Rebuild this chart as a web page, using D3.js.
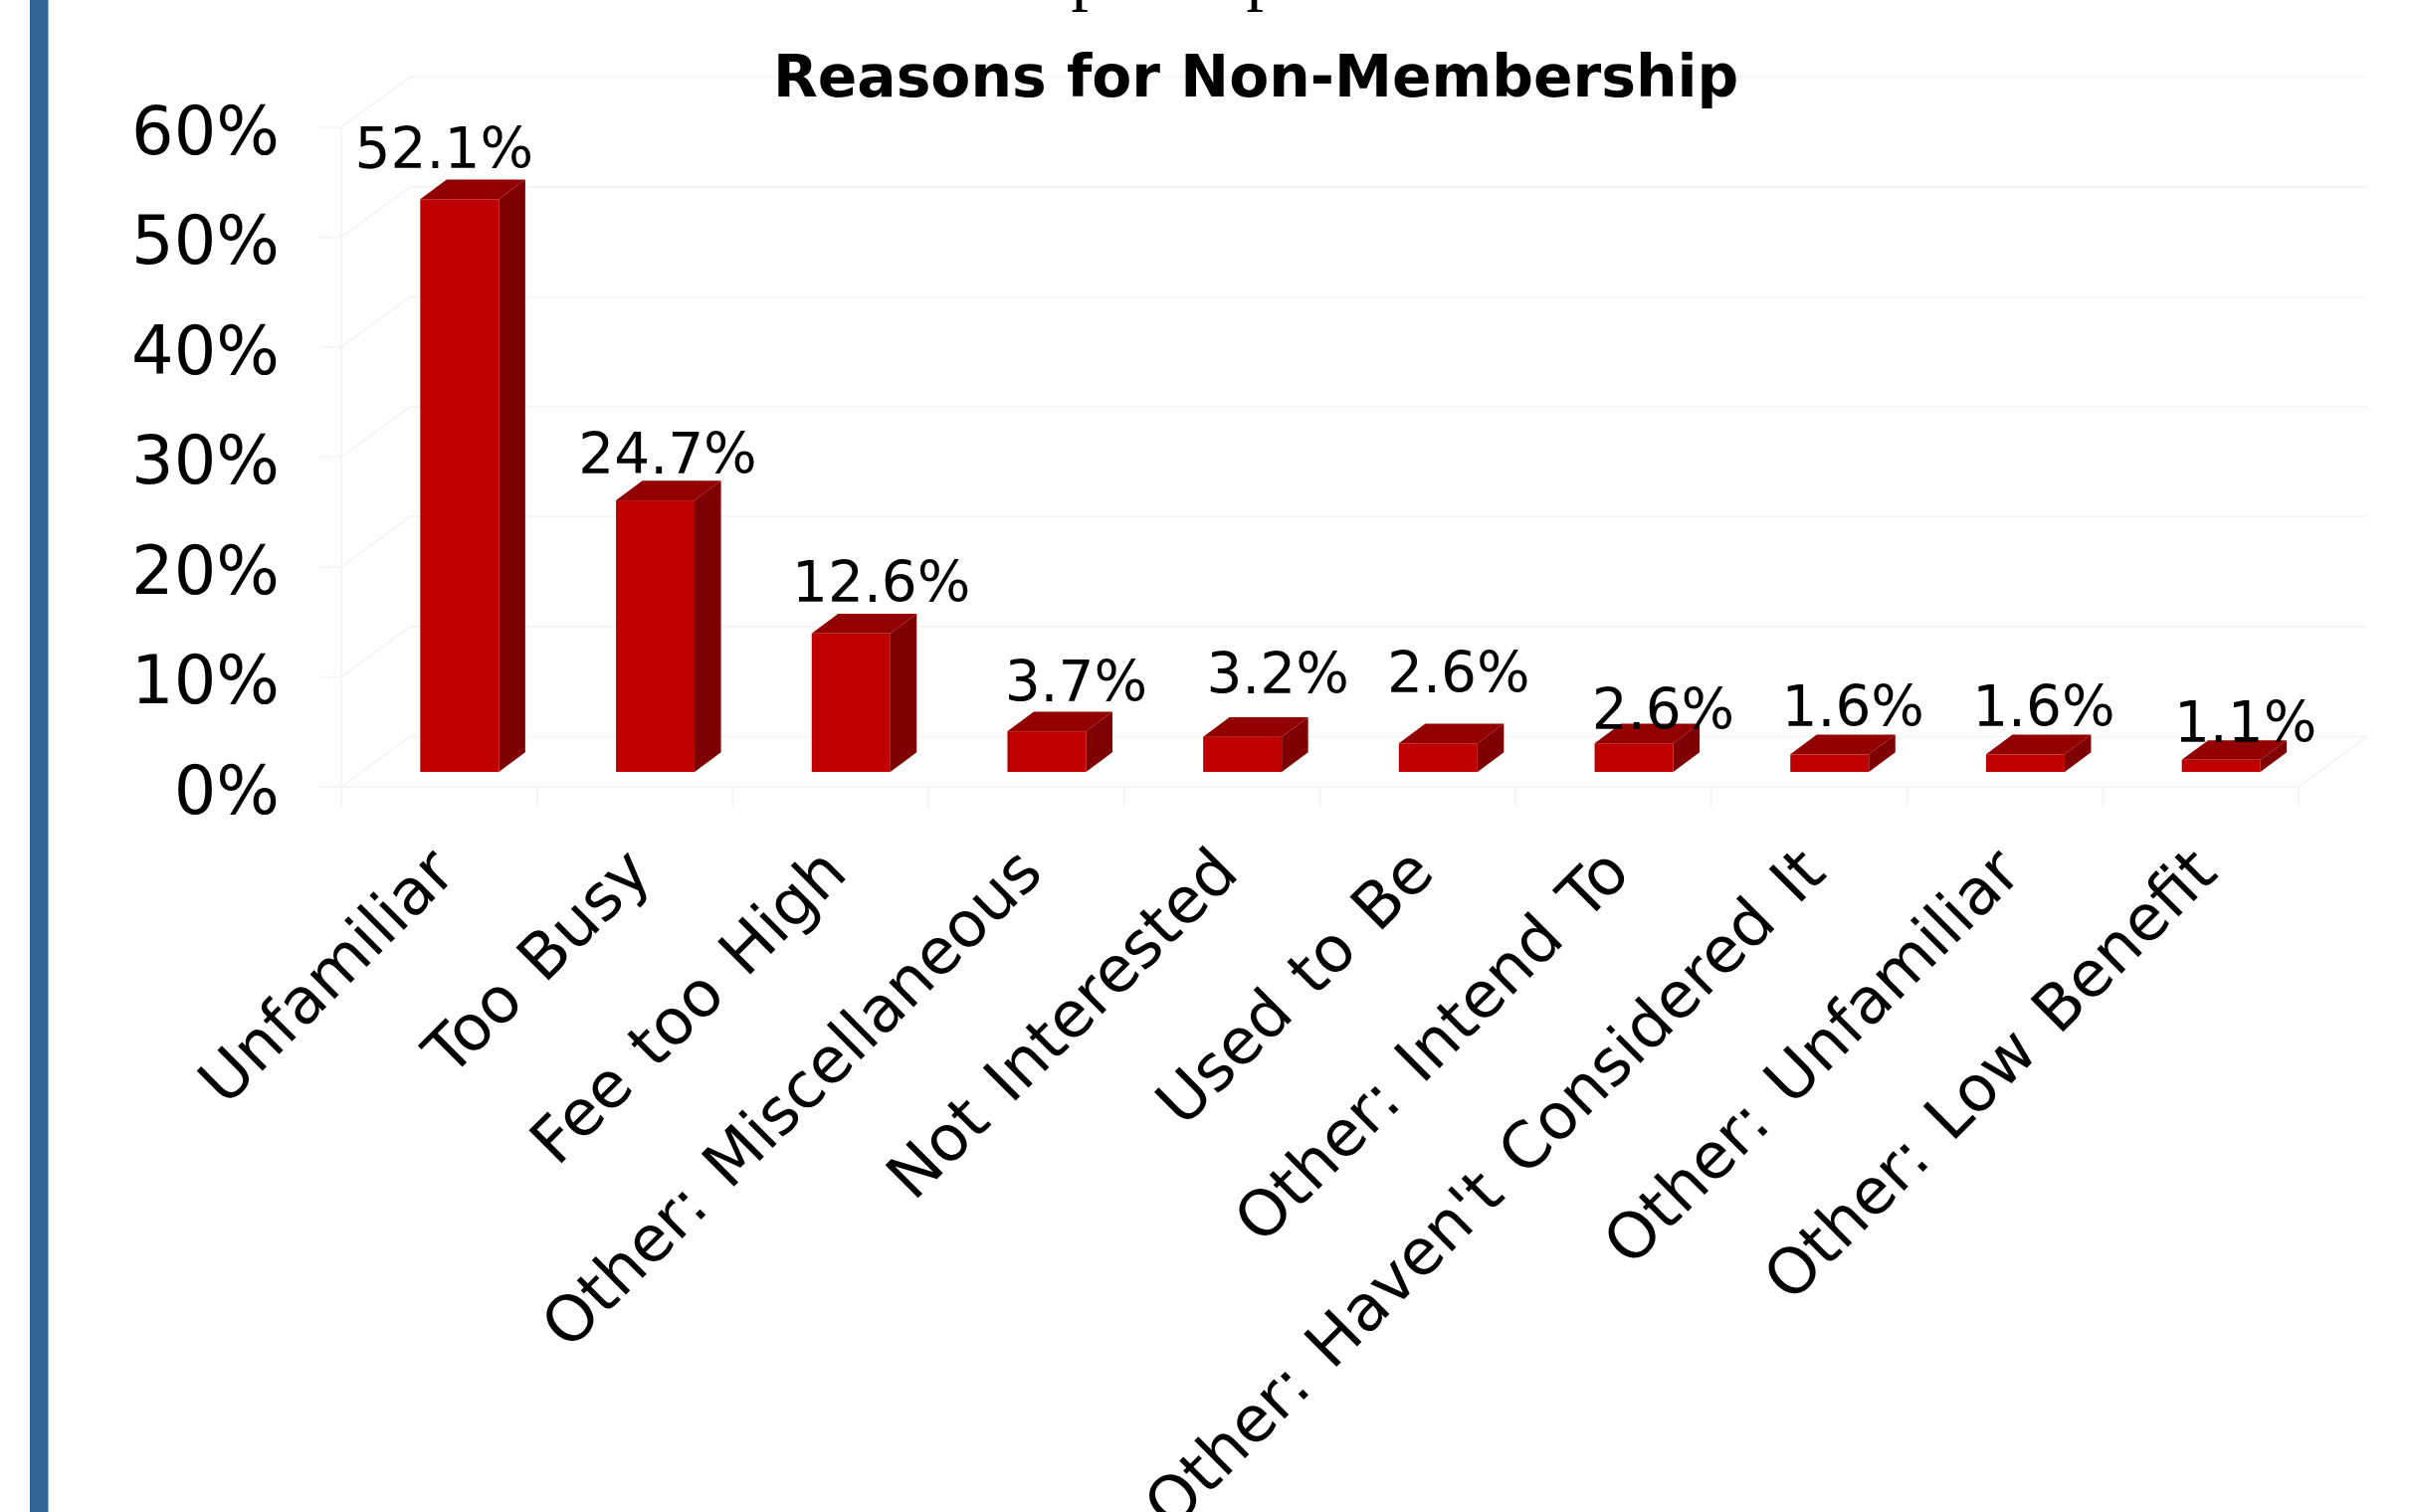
<!DOCTYPE html>
<html>
<head>
<meta charset="utf-8">
<script src="https://cdn.jsdelivr.net/npm/d3@7"></script>
<style>
  html, body { margin: 0; padding: 0; background: #fff; overflow: hidden; }
  text { fill: #000; font-family: "DejaVu Sans", sans-serif; }
</style>
</head>
<body>
<svg id="chart" width="2423" height="1520"></svg>
<script>
var categories = ["Unfamiliar", "Too Busy", "Fee too High", "Other: Miscellaneous",
                  "Not Interested", "Used to Be", "Other: Intend To",
                  "Other: Haven't Considered It", "Other: Unfamiliar", "Other: Low Benefit"];
var values = [52.1, 24.7, 12.6, 3.7, 3.2, 2.6, 2.6, 1.6, 1.6, 1.1];
var yTicks = [0, 10, 20, 30, 40, 50, 60];

var svg = d3.select("#chart");

var x = d3.scaleBand().domain(categories).range([343, 2310]).padding(0),
    y = d3.scaleLinear().domain([0, 60]).range([791, 128]),
    gridColor = "#f5f5f5",
    wall = {dx: 69, dy: -50.5},
    bar = {w: 79, oy: -15, dx: 26.5, dy: -19.7};

// the value labels don't follow the bars exactly in the original, so nudge them
var nudgeX = [0, 28, 46, 45, 51, 36, 45, 39, 34, 40],
    nudgeY = [0, 5, 0, 2, -12, -20, 17, 3, 3, 14];

// side rule of the page
svg.append("rect").attr("x", 30).attr("y", 0).attr("width", 18.5).attr("height", 1520)
    .attr("fill", "#336699");

// line of the page heading, cut off by the top edge
svg.selectAll(".heading").data([1094, 1270]).enter().append("text")
    .attr("class", "heading")
    .attr("x", function(d) { return d; }).attr("y", -3.5).attr("text-anchor", "middle")
    .style("font-family", "Liberation Serif").style("font-size", "70px")
    .text("p");

// walls and floor
var grid = svg.append("g").attr("fill", "none").attr("stroke", gridColor).attr("stroke-width", 2);
grid.selectAll(".wall").data(yTicks).enter().append("path")
    .attr("class", "wall")
    .attr("d", function(d) {
        return "M321," + y(d) + "H" + x.range()[0] + "l" + wall.dx + "," + wall.dy +
            "H" + (x.range()[1] + wall.dx);
    });
grid.append("path")
    .attr("d", "M" + x.range()[0] + "," + y(60) + "V" + (y(0) + 21));
grid.append("path")
    .attr("d", "M" + x.range()[0] + "," + y(0) + "H" + x.range()[1] + "l" + wall.dx + "," + wall.dy);
grid.selectAll(".tick").data(categories).enter().append("path")
    .attr("class", "tick")
    .attr("d", function(d) {
        return "M" + (x(d) + x.bandwidth()) + "," + y(0) + "v21";
    });

// y axis labels
var yAxis = d3.axisLeft(y).tickValues(yTicks).tickSize(0).tickPadding(0)
    .tickFormat(function(d) { return d + "%"; });
var yg = svg.append("g").attr("transform", "translate(281,0)").call(yAxis);
yg.select(".domain").remove();
yg.selectAll("text")
    .attr("dy", null).attr("y", 26)
    .style("font-size", "67px");
yg.attr("font-family", null).attr("font-size", null);

// bars
var bars = svg.selectAll(".bar").data(values).enter().append("g")
    .attr("class", "bar")
    .attr("transform", function(d, i) {
        return "translate(" + (x(categories[i]) + x.bandwidth() / 2 - bar.w / 2 + 20.5) + "," + bar.oy + ")";
    });
bars.append("rect")
    .attr("x", 0).attr("width", bar.w)
    .attr("y", function(d) { return y(d); })
    .attr("height", function(d) { return y(0) - y(d); })
    .attr("fill", "#c00000");
bars.append("path")
    .attr("fill", "#7f0000")
    .attr("d", function(d) {
        return "M" + bar.w + "," + y(d) + "l" + bar.dx + "," + bar.dy +
            "V" + (y(0) + bar.dy) + "l" + (-bar.dx) + "," + (-bar.dy) + "Z";
    });
bars.append("path")
    .attr("fill", "#930000")
    .attr("d", function(d) {
        return "M0," + y(d) + "l" + bar.dx + "," + bar.dy + "h" + bar.w +
            "l" + (-bar.dx) + "," + (-bar.dy) + "Z";
    });

// value labels
svg.selectAll(".value").data(values).enter().append("text")
    .attr("class", "value")
    .attr("text-anchor", "middle")
    .attr("x", function(d, i) { return x(categories[i]) + x.bandwidth() / 2 + 5 + nudgeX[i]; })
    .attr("y", function(d, i) { return y(d) + bar.oy + bar.dy - 12 + nudgeY[i]; })
    .style("font-size", "56.5px")
    .text(function(d) { return d.toFixed(1) + "%"; });

// category labels
svg.selectAll(".cat").data(categories).enter().append("text")
    .attr("class", "cat")
    .attr("text-anchor", "end")
    .attr("transform", function(d) {
        return "translate(" + (x(d) + x.bandwidth() / 2 + 19) + ",880) rotate(-45)";
    })
    .style("font-size", "64px")
    .style("word-spacing", "6px")
    .text(function(d) { return d; });

// chart title
svg.append("text")
    .attr("x", 1262).attr("y", 96.7)
    .attr("text-anchor", "middle")
    .style("font-size", "58.3px").style("font-weight", "bold")
    .text("Reasons for Non-Membership");
</script>
</body>
</html>
